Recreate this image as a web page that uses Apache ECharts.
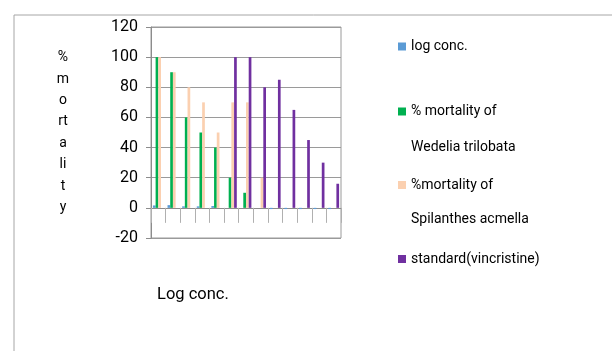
<!DOCTYPE html>
<html>
<head>
<meta charset="utf-8">
<script src="https://cdn.jsdelivr.net/npm/echarts@6/dist/echarts.min.js"></script>
<style>
html,body{margin:0;padding:0;background:#fff;}
#chart{width:612px;height:351px;}
</style>
</head>
<body>
<div id="chart"></div>
<script>
const categories = ['1','2','3','4','5','6','7','8','9','10','11','12','13'];
const logConc = [1.6, 1.8, 1, 1, 1.2, 0, 0, 0, -0.8, -0.8, -0.8, -0.8, -0.8];
const wedelia = [100, 90, 60, 50, 40, 20, 10, 0, 0, 0, 0, 0, 0];
const spilanthes = [100, 90, 80, 70, 50, 70, 70, 20, 0, 0, 0, 0, 0];
const vincristine = [0, 0, 0, 0, 0, 100, 100, 80, 85, 65, 45, 30, 16];
const yTicks = {min: -20, max: 120, interval: 20};
const seriesNames = ['log conc.', '% mortality of Wedelia trilobata', '%mortality of Spilanthes acmella', 'standard(vincristine)'];
const colors = ['#5b9bd5', '#00b050', '#fbd0b0', '#7030a0'];

const FONT = "Roboto, 'Liberation Sans', sans-serif";
const chart = echarts.init(document.getElementById('chart'), null, {renderer: 'canvas'});

function legendAt(name, top, label) {
  return {
    data: [name], left: 398, top: top, orient: 'vertical', padding: 0,
    icon: 'rect', itemWidth: 8, itemHeight: 8, itemGap: 0,
    selectedMode: false,
    formatter: function () { return label; },
    textStyle: {fontFamily: FONT, fontSize: 14, color: '#000', lineHeight: 20}
  };
}

const seriesData = [logConc, wedelia, spilanthes, vincristine];
const option = {
  animation: false,
  color: colors,
  grid: {left: 151, top: 27, width: 190, height: 211, show: true, borderColor: '#9a9a9a', borderWidth: 1, containLabel: false},
  xAxis: {
    type: 'category', data: categories,
    axisLabel: {show: false},
    axisLine: {onZero: true, lineStyle: {color: '#8c8c8c', width: 1}},
    axisTick: {show: true, interval: 0, length: 15, inside: false, lineStyle: {color: '#b0b0b0'}},
    splitLine: {show: false}
  },
  yAxis: {
    type: 'value', min: yTicks.min, max: yTicks.max, interval: yTicks.interval,
    name: '%\nm\no\nrt\na\nli\nt\ny', nameLocation: 'middle', nameRotate: 0, nameGap: 88,
    nameTextStyle: {fontFamily: FONT, fontSize: 14, color: '#000', lineHeight: 21.4, align: 'center', verticalAlign: 'middle'},
    axisLine: {show: true, lineStyle: {color: '#8c8c8c'}},
    axisTick: {show: true, length: 5, lineStyle: {color: '#8c8c8c'}},
    axisLabel: {fontFamily: FONT, fontSize: 16, color: '#000', margin: 13},
    splitLine: {show: true, lineStyle: {color: '#9a9a9a', width: 1}}
  },
  legend: [
    legendAt(seriesNames[0], 36.5, 'log conc.'),
    legendAt(seriesNames[1], 101.5, '% mortality of'),
    legendAt(seriesNames[2], 175, '%mortality of'),
    legendAt(seriesNames[3], 249, 'standard(vincristine)')
  ],
  graphic: [
    {type: 'rect', left: 11.5, top: 12.5, shape: {width: 700, height: 400}, style: {fill: 'none', stroke: '#a6a6a6', lineWidth: 1}, silent: true},
    {type: 'text', x: 411, y: 147, style: {text: 'Wedelia trilobata', font: '14px ' + FONT, fill: '#000', verticalAlign: 'middle'}},
    {type: 'text', x: 411, y: 219, style: {text: 'Spilanthes acmella', font: '14px ' + FONT, fill: '#000', verticalAlign: 'middle'}},
    {type: 'text', x: 157, y: 295, style: {text: 'Log conc.', font: '16.5px ' + FONT, fill: '#000', verticalAlign: 'middle'}}
  ],
  series: seriesNames.map(function (n, i) {
    return {
      name: n, type: 'bar', data: seriesData[i], barWidth: 2.7, barGap: '0%',
      itemStyle: {color: colors[i]}
    };
  })
};
chart.setOption(option);
</script>
</body>
</html>
